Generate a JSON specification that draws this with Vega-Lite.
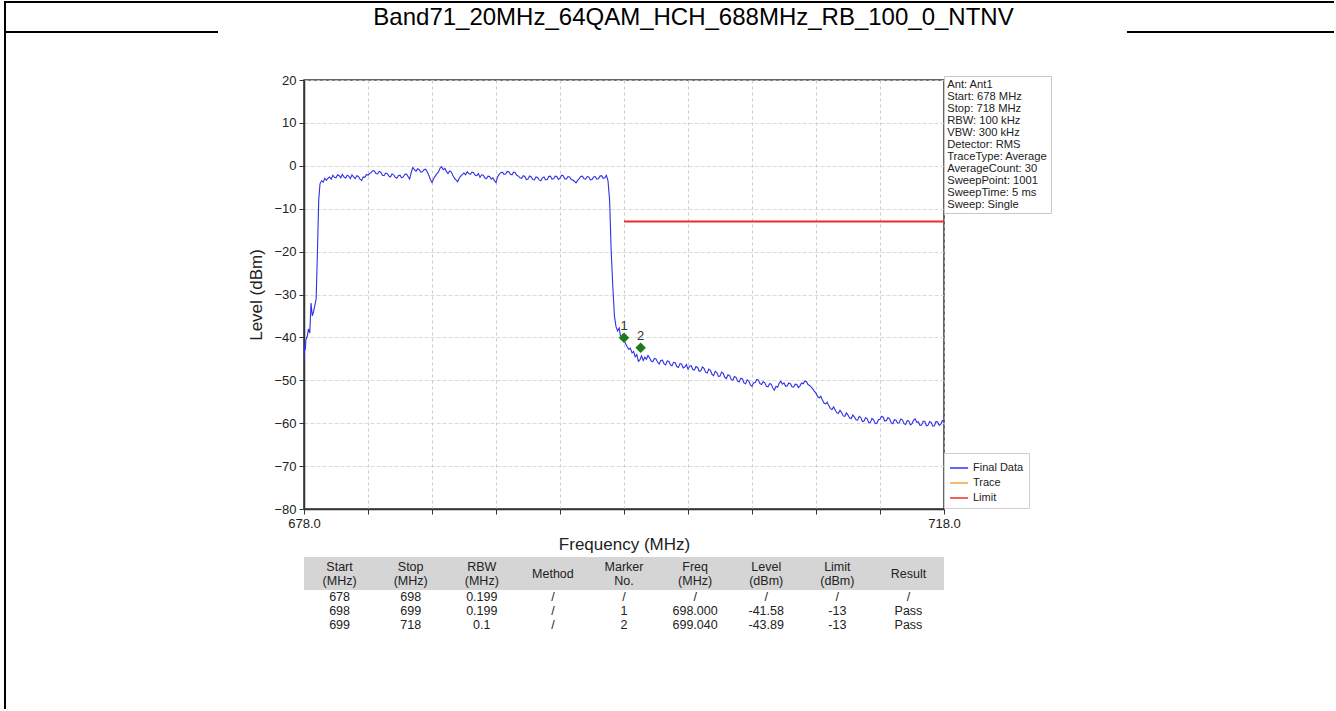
{
"$schema": "https://vega.github.io/schema/vega-lite/v6.json",
"background": "white",
"padding": {"left": 4, "top": 1, "right": 0, "bottom": 0},
"config": {"font": "Liberation Sans", "view": {"stroke": null}, "concat": {"spacing": 0}},
"bounds": "flush",
"spacing": 0,
"vconcat": [
{
"width": 1329, "height": 30,
"view": {"stroke": "black", "strokeWidth": 2, "strokeDash": [1329, 30, 207, 909, 243]},
"data": {"values": [{"t": "Band71_20MHz_64QAM_HCH_688MHz_RB_100_0_NTNV"}]},
"mark": {"type": "text", "fontSize": 24, "dx": 24, "dy": 1, "color": "black"},
"encoding": {"text": {"field": "t"}}
},
{
"bounds": "flush",
"spacing": 0,
"hconcat": [
{
"width": 299, "height": 677,
"view": {"stroke": "black", "strokeWidth": 2, "strokeDash": [677, 1275], "strokeDashOffset": 677},
"data": {"values": []},
"mark": "point"
},
{
"bounds": "flush",
"spacing": 0,
"vconcat": [
{"width": 640, "height": 48, "data": {"values": []}, "mark": "point"},
{
"width": 640, "height": 429,
"view": {"stroke": "#333", "strokeWidth": 1.5},
"layer": [
{
"data": {"values": [
{"f":678.0,"v":-45.2},{"f":678.04,"v":-41.5},{"f":678.08,"v":-43},{"f":678.12,"v":-40.5},{"f":678.2,"v":-39.8},{"f":678.28,"v":-38},{"f":678.36,"v":-39},{"f":678.44,"v":-32},{"f":678.52,"v":-35},{"f":678.6,"v":-34},{"f":678.68,"v":-32.5},{"f":678.76,"v":-31},{"f":678.84,"v":-20},{"f":678.92,"v":-8},{"f":679.0,"v":-4.2},{"f":679.1,"v":-3.5},{"f":679.2,"v":-3.8},{"f":679.3,"v":-2.9},{"f":679.4,"v":-3.4},
{"f":679.5,"v":-2.9},{"f":679.6,"v":-2.6},{"f":679.7,"v":-3.1},{"f":679.8,"v":-2.2},{"f":679.9,"v":-2.7},{"f":680.0,"v":-2.8},{"f":680.1,"v":-2.1},{"f":680.2,"v":-2.3},{"f":680.3,"v":-2.8},{"f":680.4,"v":-2.0},{"f":680.5,"v":-2.6},{"f":680.6,"v":-2.9},{"f":680.7,"v":-2.2},{"f":680.8,"v":-2.4},{"f":680.9,"v":-3.0},{"f":681.0,"v":-2.1},{"f":681.1,"v":-2.6},{"f":681.2,"v":-3.0},{"f":681.3,"v":-2.3},{"f":681.4,"v":-2.5},{"f":681.5,"v":-3.1},{"f":681.6,"v":-3.4},{"f":681.7,"v":-2.6},{"f":681.8,"v":-2.7},{"f":681.9,"v":-2.0},{"f":682.0,"v":-2.2},{"f":682.1,"v":-1.8},{"f":682.2,"v":-1.6},{"f":682.3,"v":-1.1},{"f":682.4,"v":-1.2},{"f":682.5,"v":-1.8},{"f":682.6,"v":-1.9},{"f":682.7,"v":-1.3},{"f":682.8,"v":-1.5},{"f":682.9,"v":-2.2},{"f":683.0,"v":-2.3},{"f":683.1,"v":-1.7},{"f":683.2,"v":-1.8},{"f":683.3,"v":-2.4},{"f":683.4,"v":-2.6},{"f":683.5,"v":-1.9},{"f":683.6,"v":-2.1},{"f":683.7,"v":-2.7},{"f":683.8,"v":-2.9},{"f":683.9,"v":-2.3},{"f":684.0,"v":-2.2},{"f":684.1,"v":-2.8},{"f":684.2,"v":-2.6},{"f":684.3,"v":-2.0},{"f":684.4,"v":-1.9},{"f":684.5,"v":-2.5},{"f":684.6,"v":-3.1},{"f":684.7,"v":-1.6},{"f":684.8,"v":-0.4},{"f":684.9,"v":-0.9},{"f":685.0,"v":-1.3},{"f":685.1,"v":-0.7},{"f":685.2,"v":-0.9},{"f":685.3,"v":-1.5},{"f":685.4,"v":-1.4},{"f":685.5,"v":-0.9},{"f":685.6,"v":-0.8},{"f":685.7,"v":-1.4},{"f":685.8,"v":-2.2},{"f":685.9,"v":-3.2},{"f":686.0,"v":-3.9},{"f":686.1,"v":-3.0},{"f":686.2,"v":-2.4},{"f":686.3,"v":-1.9},{"f":686.4,"v":-1.5},{"f":686.5,"v":-0.6},{"f":686.6,"v":-0.2},{"f":686.7,"v":-0.9},{"f":686.8,"v":-0.6},{"f":686.9,"v":-1.3},{"f":687.0,"v":-1.8},{"f":687.1,"v":-1.2},{"f":687.2,"v":-1.4},{"f":687.3,"v":-2.2},{"f":687.4,"v":-2.9},{"f":687.5,"v":-3.3},{"f":687.6,"v":-3.7},{"f":687.7,"v":-2.9},{"f":687.8,"v":-2.4},{"f":687.9,"v":-2.0},{"f":688.0,"v":-1.7},{"f":688.1,"v":-2.1},{"f":688.2,"v":-1.4},{"f":688.3,"v":-1.8},{"f":688.4,"v":-2.0},{"f":688.5,"v":-1.5},{"f":688.6,"v":-1.6},{"f":688.7,"v":-2.2},{"f":688.8,"v":-2.3},{"f":688.9,"v":-1.8},{"f":689.0,"v":-2.7},{"f":689.1,"v":-2.1},{"f":689.2,"v":-2.2},{"f":689.3,"v":-2.8},{"f":689.4,"v":-3.0},{"f":689.5,"v":-2.4},{"f":689.6,"v":-2.5},{"f":689.7,"v":-3.1},{"f":689.8,"v":-2.8},{"f":689.9,"v":-3.4},{"f":690.0,"v":-3.9},{"f":690.1,"v":-2.6},{"f":690.2,"v":-2.0},{"f":690.3,"v":-1.6},{"f":690.4,"v":-1.5},{"f":690.5,"v":-2.0},{"f":690.6,"v":-1.9},{"f":690.7,"v":-1.3},{"f":690.8,"v":-1.4},{"f":690.9,"v":-2.0},{"f":691.0,"v":-2.1},{"f":691.1,"v":-1.5},{"f":691.2,"v":-1.6},{"f":691.3,"v":-2.2},{"f":691.4,"v":-2.4},{"f":691.5,"v":-2.8},{"f":691.6,"v":-2.9},{"f":691.7,"v":-2.3},{"f":691.8,"v":-2.5},{"f":691.9,"v":-3.2},{"f":692.0,"v":-3.1},{"f":692.1,"v":-2.4},{"f":692.2,"v":-2.6},{"f":692.3,"v":-3.2},{"f":692.4,"v":-3.3},{"f":692.5,"v":-2.6},{"f":692.6,"v":-2.7},{"f":692.7,"v":-3.3},{"f":692.8,"v":-3.5},{"f":692.9,"v":-2.8},{"f":693.0,"v":-2.6},{"f":693.1,"v":-3.3},{"f":693.2,"v":-3.2},{"f":693.3,"v":-2.5},{"f":693.4,"v":-2.4},{"f":693.5,"v":-3.1},{"f":693.6,"v":-3.0},{"f":693.7,"v":-2.4},{"f":693.8,"v":-2.5},{"f":693.9,"v":-3.2},{"f":694.0,"v":-2.9},{"f":694.1,"v":-2.2},{"f":694.2,"v":-2.3},{"f":694.3,"v":-3.0},{"f":694.4,"v":-3.1},{"f":694.5,"v":-2.5},{"f":694.6,"v":-2.6},{"f":694.7,"v":-3.2},{"f":694.8,"v":-3.3},{"f":694.9,"v":-3.6},{"f":695.0,"v":-4.0},{"f":695.1,"v":-3.4},{"f":695.2,"v":-3.0},{"f":695.3,"v":-2.5},{"f":695.4,"v":-2.4},{"f":695.5,"v":-3.0},{"f":695.6,"v":-3.1},{"f":695.7,"v":-2.5},{"f":695.8,"v":-2.6},{"f":695.9,"v":-3.3},{"f":696.0,"v":-3.2},{"f":696.1,"v":-2.6},{"f":696.2,"v":-2.5},{"f":696.3,"v":-3.1},{"f":696.4,"v":-3.0},{"f":696.5,"v":-2.4},{"f":696.6,"v":-2.3},{"f":696.7,"v":-2.9},{"f":696.8,"v":-2.8},{"f":696.9,"v":-2.2},
{"f":697.0,"v":-3.5},{"f":697.1,"v":-8},{"f":697.2,"v":-20},{"f":697.3,"v":-28},{"f":697.4,"v":-35},{"f":697.5,"v":-37.5},{"f":697.6,"v":-38.5},{"f":697.7,"v":-37.8},{"f":697.8,"v":-40.2},{"f":697.9,"v":-39.5},{"f":698.0,"v":-40.8},{"f":698.1,"v":-41.5},{"f":698.2,"v":-42.2},{"f":698.3,"v":-42.8},{"f":698.4,"v":-42.5},{"f":698.5,"v":-43.6},{"f":698.6,"v":-43.3},{"f":698.7,"v":-44.5},{"f":698.8,"v":-44.0},{"f":698.9,"v":-45.6},{"f":699.0,"v":-45.2},{"f":699.1,"v":-44.3},{"f":699.2,"v":-45.4},{"f":699.3,"v":-44.6},{"f":699.4,"v":-45.1},{"f":699.5,"v":-44.2},{"f":699.6,"v":-44.8},{"f":699.7,"v":-45.5},{"f":699.8,"v":-45.7},{"f":699.9,"v":-44.9},
{"f":700.0,"v":-45.0},{"f":700.1,"v":-45.8},{"f":700.2,"v":-46.2},{"f":700.3,"v":-45.4},{"f":700.4,"v":-45.3},{"f":700.5,"v":-46.1},{"f":700.6,"v":-46.4},{"f":700.7,"v":-45.5},{"f":700.8,"v":-45.6},{"f":700.9,"v":-46.4},{"f":701.0,"v":-46.6},{"f":701.1,"v":-45.8},{"f":701.2,"v":-45.9},{"f":701.3,"v":-46.8},{"f":701.4,"v":-47.0},{"f":701.5,"v":-46.1},{"f":701.6,"v":-46.2},{"f":701.7,"v":-47.1},{"f":701.8,"v":-46.9},{"f":701.9,"v":-46.3},{"f":702.0,"v":-47.4},{"f":702.1,"v":-46.7},{"f":702.2,"v":-46.6},{"f":702.3,"v":-47.5},{"f":702.4,"v":-47.6},{"f":702.5,"v":-46.8},{"f":702.6,"v":-47.0},{"f":702.7,"v":-47.9},{"f":702.8,"v":-47.8},{"f":702.9,"v":-46.9},{"f":703.0,"v":-47.2},{"f":703.1,"v":-48.1},{"f":703.2,"v":-48.3},{"f":703.3,"v":-47.4},{"f":703.4,"v":-47.7},{"f":703.5,"v":-48.6},{"f":703.6,"v":-48.9},{"f":703.7,"v":-47.9},{"f":703.8,"v":-48.2},{"f":703.9,"v":-49.1},{"f":704.0,"v":-49.0},{"f":704.1,"v":-48.1},{"f":704.2,"v":-48.4},{"f":704.3,"v":-49.3},{"f":704.4,"v":-49.6},{"f":704.5,"v":-48.7},{"f":704.6,"v":-48.9},{"f":704.7,"v":-49.8},{"f":704.8,"v":-50.0},{"f":704.9,"v":-49.1},{"f":705.0,"v":-49.3},{"f":705.1,"v":-50.2},{"f":705.2,"v":-50.4},{"f":705.3,"v":-49.5},{"f":705.4,"v":-49.7},{"f":705.5,"v":-50.6},{"f":705.6,"v":-50.8},{"f":705.7,"v":-49.9},{"f":705.8,"v":-50.2},{"f":705.9,"v":-51.1},{"f":706.0,"v":-51.4},{"f":706.1,"v":-50.6},{"f":706.2,"v":-50.5},{"f":706.3,"v":-49.8},{"f":706.4,"v":-49.9},{"f":706.5,"v":-50.8},{"f":706.6,"v":-51.0},{"f":706.7,"v":-50.3},{"f":706.8,"v":-50.6},{"f":706.9,"v":-51.4},{"f":707.0,"v":-51.5},{"f":707.1,"v":-50.8},{"f":707.2,"v":-50.9},{"f":707.3,"v":-51.8},{"f":707.4,"v":-52.3},{"f":707.5,"v":-51.4},{"f":707.6,"v":-51.6},{"f":707.7,"v":-50.7},{"f":707.8,"v":-50.2},{"f":707.9,"v":-50.9},{"f":708.0,"v":-50.6},{"f":708.1,"v":-51.4},{"f":708.2,"v":-51.3},{"f":708.3,"v":-50.6},{"f":708.4,"v":-50.8},{"f":708.5,"v":-51.5},{"f":708.6,"v":-51.6},{"f":708.7,"v":-50.9},{"f":708.8,"v":-51.0},{"f":708.9,"v":-51.7},{"f":709.0,"v":-51.3},{"f":709.1,"v":-50.6},{"f":709.2,"v":-50.8},{"f":709.3,"v":-50.2},{"f":709.4,"v":-50.3},{"f":709.5,"v":-51.0},{"f":709.6,"v":-51.2},{"f":709.7,"v":-51.6},{"f":709.8,"v":-52.0},{"f":709.9,"v":-52.6},
{"f":710.0,"v":-53.0},{"f":710.1,"v":-53.8},{"f":710.2,"v":-54.1},{"f":710.3,"v":-53.7},{"f":710.4,"v":-54.6},{"f":710.5,"v":-55.3},{"f":710.6,"v":-55.5},{"f":710.7,"v":-55.1},{"f":710.8,"v":-55.9},{"f":710.9,"v":-56.6},{"f":711.0,"v":-56.8},{"f":711.1,"v":-56.2},{"f":711.2,"v":-56.9},{"f":711.3,"v":-57.6},{"f":711.4,"v":-57.7},{"f":711.5,"v":-57.0},{"f":711.6,"v":-57.5},{"f":711.7,"v":-58.3},{"f":711.8,"v":-58.4},{"f":711.9,"v":-57.6},{"f":712.0,"v":-58.1},{"f":712.1,"v":-58.8},{"f":712.2,"v":-58.9},{"f":712.3,"v":-58.1},{"f":712.4,"v":-58.5},{"f":712.5,"v":-59.2},{"f":712.6,"v":-59.3},{"f":712.7,"v":-58.4},{"f":712.8,"v":-58.7},{"f":712.9,"v":-59.6},{"f":713.0,"v":-59.5},{"f":713.1,"v":-58.7},{"f":713.2,"v":-59.0},{"f":713.3,"v":-59.9},{"f":713.4,"v":-59.8},{"f":713.5,"v":-58.9},{"f":713.6,"v":-59.2},{"f":713.7,"v":-60.1},{"f":713.8,"v":-60.0},{"f":713.9,"v":-59.2},{"f":714.0,"v":-59.1},{"f":714.1,"v":-58.4},{"f":714.2,"v":-58.6},{"f":714.3,"v":-59.5},{"f":714.4,"v":-59.4},{"f":714.5,"v":-58.7},{"f":714.6,"v":-59.0},{"f":714.7,"v":-59.9},{"f":714.8,"v":-60.1},{"f":714.9,"v":-59.2},{"f":715.0,"v":-59.3},{"f":715.1,"v":-60.0},{"f":715.2,"v":-59.9},{"f":715.3,"v":-59.0},{"f":715.4,"v":-59.2},{"f":715.5,"v":-60.1},{"f":715.6,"v":-60.3},{"f":715.7,"v":-59.4},{"f":715.8,"v":-59.5},{"f":715.9,"v":-60.4},{"f":716.0,"v":-60.1},{"f":716.1,"v":-59.3},{"f":716.2,"v":-59.0},{"f":716.3,"v":-59.8},{"f":716.4,"v":-59.7},{"f":716.5,"v":-60.5},{"f":716.6,"v":-60.4},{"f":716.7,"v":-59.5},{"f":716.8,"v":-59.6},{"f":716.9,"v":-60.6},{"f":717.0,"v":-60.5},{"f":717.1,"v":-59.6},{"f":717.2,"v":-59.8},{"f":717.3,"v":-60.7},{"f":717.4,"v":-60.6},{"f":717.5,"v":-59.6},{"f":717.6,"v":-59.7},{"f":717.7,"v":-60.5},{"f":717.8,"v":-60.2},{"f":717.9,"v":-59.4},{"f":718.0,"v":-59.6}
]},
"mark": {"type": "line", "strokeWidth": 1.1, "clip": true},
"encoding": {
"x": {"field": "f", "type": "quantitative",
"scale": {"domain": [678, 718], "nice": false, "zero": false},
"axis": {"values": [678,682,686,690,694,698,702,706,710,714,718],
"labelExpr": "datum.value == 678 || datum.value == 718 ? format(datum.value, '.1f') : ''",
"labelFlush": false, "labelFontSize": 13, "labelColor": "#222", "labelPadding": 3,
"tickSize": 5, "tickColor": "#333", "domainColor": "#333", "domainWidth": 1.5,
"grid": true, "gridColor": "#bdbdbd", "gridDash": [3, 3], "gridWidth": 0.8,
"title": "Frequency (MHz)", "titleFontSize": 17, "titleFontWeight": "normal", "titleColor": "#222", "titlePadding": 6}},
"y": {"field": "v", "type": "quantitative",
"scale": {"domain": [-80, 20], "nice": false, "zero": false},
"axis": {"values": [-80,-70,-60,-50,-40,-30,-20,-10,0,10,20],
"labelFontSize": 13, "labelColor": "#222", "labelPadding": 3,
"tickSize": 5, "tickColor": "#333", "domainColor": "#333", "domainWidth": 1.5,
"grid": true, "gridColor": "#d0d0d0", "gridDash": [4, 2], "gridWidth": 0.8,
"title": "Level (dBm)", "titleFontSize": 17, "titleFontWeight": "normal", "titleColor": "#222", "titlePadding": 8}},
"color": {"datum": "Final Data", "type": "nominal",
"scale": {"domain": ["Final Data", "Trace", "Limit"], "range": ["#3030e6", "#ff9a3c", "#ee2b2b"]},
"legend": {"orient": "none", "legendX": 939, "legendY": 451, "title": null, "symbolType": "stroke", "symbolStrokeWidth": 1.5, "symbolSize": 320, "labelFontSize": 11, "labelColor": "#222", "rowPadding": -2, "padding": 5, "strokeColor": "#cfcfcf", "fillColor": "white"}}
}
},
{
"data": {"values": [{"f1": 698, "f2": 718, "lim": -13}]},
"mark": {"type": "rule", "strokeWidth": 2},
"encoding": {
"x": {"field": "f1", "type": "quantitative"},
"x2": {"field": "f2"},
"y": {"field": "lim", "type": "quantitative"},
"color": {"datum": "Limit", "type": "nominal"}
}
},
{
"data": {"values": [{"f": 698.0, "v": -40.1, "no": "1"}, {"f": 699.04, "v": -42.4, "no": "2"}]},
"mark": {"type": "point", "shape": "diamond", "filled": true, "color": "#1d7a1d", "size": 110, "opacity": 1},
"encoding": {
"x": {"field": "f", "type": "quantitative"},
"y": {"field": "v", "type": "quantitative"}
}
},
{
"data": {"values": [{"f": 698.0, "v": -40.1, "no": "1"}, {"f": 699.04, "v": -42.4, "no": "2"}]},
"mark": {"type": "text", "dy": -12, "fontSize": 13, "color": "#333"},
"encoding": {
"x": {"field": "f", "type": "quantitative"},
"y": {"field": "v", "type": "quantitative"},
"text": {"field": "no"}
}
},
{
"data": {"values": [
{"info": "Ant: Ant1"}, {"info": "Start: 678 MHz"}, {"info": "Stop: 718 MHz"}, {"info": "RBW: 100 kHz"}, {"info": "VBW: 300 kHz"}, {"info": "Detector: RMS"}, {"info": "TraceType: Average"}, {"info": "AverageCount: 30"}, {"info": "SweepPoint: 1001"}, {"info": "SweepTime: 5 ms"}, {"info": "Sweep: Single"}
]},
"mark": {"type": "point", "opacity": 0, "size": 0},
"encoding": {
"shape": {"field": "info", "type": "nominal",
"scale": {"domain": ["Ant: Ant1", "Start: 678 MHz", "Stop: 718 MHz", "RBW: 100 kHz", "VBW: 300 kHz", "Detector: RMS", "TraceType: Average", "AverageCount: 30", "SweepPoint: 1001", "SweepTime: 5 ms", "Sweep: Single"]},
"legend": {"orient": "none", "legendX": 939, "legendY": 74, "title": null, "symbolSize": 0, "symbolOpacity": 0, "symbolStrokeWidth": 0, "labelOffset": -11, "labelFontSize": 11.2, "labelColor": "#222", "rowPadding": 0, "padding": 3, "strokeColor": "#c8c8c8", "fillColor": "white"}}
}
}
]
},
{"width": 640, "height": 48, "data": {"values": []}, "mark": "point"},
{
"width": 640, "height": 33,
"view": {"fill": "#d5d5d5", "stroke": null},
"data": {"values": [
{"c": "Start", "t": "Start\n(MHz)", "n": 2}, {"c": "Stop", "t": "Stop\n(MHz)", "n": 2}, {"c": "RBW", "t": "RBW\n(MHz)", "n": 2}, {"c": "Method", "t": "Method", "n": 1}, {"c": "Marker", "t": "Marker\nNo.", "n": 2}, {"c": "Freq", "t": "Freq\n(MHz)", "n": 2}, {"c": "Level", "t": "Level\n(dBm)", "n": 2}, {"c": "Limit", "t": "Limit\n(dBm)", "n": 2}, {"c": "Result", "t": "Result", "n": 1}
]},
"encoding": {
"x": {"field": "c", "type": "nominal", "axis": null, "scale": {"domain": ["Start", "Stop", "RBW", "Method", "Marker", "Freq", "Level", "Limit", "Result"]}},
"text": {"field": "t"}
},
"layer": [
{"transform": [{"filter": "datum.n == 2"}], "mark": {"type": "text", "lineBreak": "\n", "fontSize": 12.5, "lineHeight": 14, "dy": -7, "color": "#222"}},
{"transform": [{"filter": "datum.n == 1"}], "mark": {"type": "text", "fontSize": 12.5, "color": "#222"}}
]
},
{
"width": 640, "height": 42,
"data": {"values": [
{"row": "1", "Start": "678", "Stop": "698", "RBW": "0.199", "Method": "/", "Marker": "/", "Freq": "/", "Level": "/", "Limit": "/", "Result": "/"},
{"row": "2", "Start": "698", "Stop": "699", "RBW": "0.199", "Method": "/", "Marker": "1", "Freq": "698.000", "Level": "-41.58", "Limit": "-13", "Result": "Pass"},
{"row": "3", "Start": "699", "Stop": "718", "RBW": "0.1", "Method": "/", "Marker": "2", "Freq": "699.040", "Level": "-43.89", "Limit": "-13", "Result": "Pass"}
]},
"transform": [{"fold": ["Start", "Stop", "RBW", "Method", "Marker", "Freq", "Level", "Limit", "Result"], "as": ["c", "val"]}],
"mark": {"type": "text", "fontSize": 12.5, "color": "#222"},
"encoding": {
"x": {"field": "c", "type": "nominal", "axis": null, "scale": {"domain": ["Start", "Stop", "RBW", "Method", "Marker", "Freq", "Level", "Limit", "Result"]}},
"y": {"field": "row", "type": "ordinal", "axis": null},
"text": {"field": "val"}
}
}
]
}
]
}
]
}
